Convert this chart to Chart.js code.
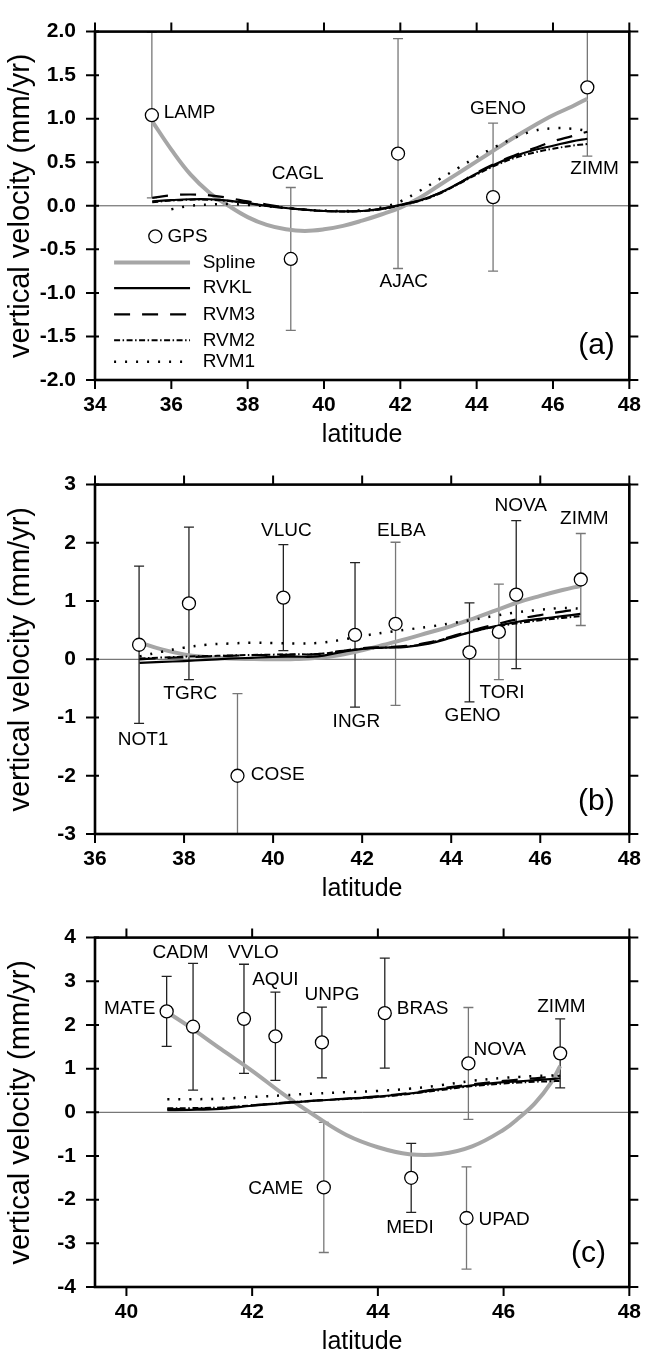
<!DOCTYPE html>
<html>
<head>
<meta charset="utf-8">
<script src="https://cdn.jsdelivr.net/npm/chart.js@4.4.1/dist/chart.umd.min.js"></script>
<style>
  body { margin: 0; background: #fff; width: 654px; height: 1357px; overflow: hidden; }
  canvas { display: block; }
</style>
</head>
<body>
<canvas id="chartA" width="654" height="453"></canvas>
<canvas id="chartB" width="654" height="453"></canvas>
<canvas id="chartC" width="654" height="451"></canvas>
<script>
// ---- tick labels
const xTicksA = [34, 36, 38, 40, 42, 44, 46, 48];
const yTicksA = [-2, -1.5, -1, -0.5, 0, 0.5, 1, 1.5, 2];
const xTicksB = [36, 38, 40, 42, 44, 46, 48];
const yTicksB = [-3, -2, -1, 0, 1, 2, 3];
const xTicksC = [40, 42, 44, 46, 48];
const yTicksC = [-4, -3, -2, -1, 0, 1, 2, 3, 4];

// ---- GPS stations, panel (a)
const aNames = ['LAMP', 'CAGL', 'AJAC', 'GENO', 'ZIMM'];
const aLat = [35.49, 39.13, 41.94, 44.43, 46.90];
const aVel = [1.04, -0.61, 0.60, 0.10, 1.36];
const aErr = [0.95, 0.82, 1.32, 0.85, 0.79];

// ---- GPS stations, panel (b)
const bNames = ['NOT1', 'TGRC', 'COSE', 'VLUC', 'INGR', 'ELBA', 'GENO', 'TORI', 'NOVA', 'ZIMM'];
const bLat = [36.99, 38.11, 39.20, 40.23, 41.84, 42.75, 44.41, 45.07, 45.46, 46.91];
const bVel = [0.25, 0.96, -2.0, 1.06, 0.42, 0.61, 0.12, 0.47, 1.11, 1.37];
const bErr = [1.35, 1.31, 1.41, 0.91, 1.24, 1.40, 0.85, 0.82, 1.27, 0.79];

// ---- GPS stations, panel (c)
const cNames = ['MATE', 'CADM', 'VVLO', 'AQUI', 'UNPG', 'CAME', 'BRAS', 'MEDI', 'UPAD', 'NOVA', 'ZIMM'];
const cLat = [40.64, 41.06, 41.87, 42.37, 43.11, 43.14, 44.11, 44.53, 45.41, 45.44, 46.90];
const cVel = [2.31, 1.96, 2.14, 1.74, 1.60, -1.72, 2.27, -1.50, -2.42, 1.12, 1.35];
const cErr = [0.80, 1.45, 1.25, 1.01, 0.81, 1.49, 1.26, 0.79, 1.17, 1.28, 0.79];

// ---- model curves, panel (a)
const aGrid = [35.5, 36, 36.5, 37, 37.5, 38, 38.5, 39, 39.5, 40, 40.5, 41, 41.5, 42, 42.5, 43, 43.5, 44, 44.5, 45, 45.5, 46, 46.5, 46.9];
const aSpline = [0.97, 0.645, 0.36, 0.15, 0.0, -0.13, -0.22, -0.27, -0.288, -0.27, -0.23, -0.17, -0.10, -0.02, 0.09, 0.23, 0.37, 0.51, 0.65, 0.79, 0.92, 1.04, 1.14, 1.23];
const aRVKL = [0.05, 0.065, 0.075, 0.075, 0.06, 0.03, 0.0, -0.025, -0.045, -0.06, -0.065, -0.06, -0.035, 0.01, 0.06, 0.14, 0.25, 0.37, 0.48, 0.57, 0.64, 0.69, 0.74, 0.77];
const aRVM3 = [0.09, 0.12, 0.13, 0.12, 0.09, 0.05, 0.015, -0.02, -0.045, -0.06, -0.065, -0.06, -0.035, 0.01, 0.06, 0.14, 0.25, 0.38, 0.49, 0.58, 0.66, 0.74, 0.80, 0.85];
const aRVM2 = [0.04, 0.06, 0.07, 0.07, 0.055, 0.03, 0.0, -0.025, -0.045, -0.06, -0.065, -0.06, -0.04, 0.005, 0.055, 0.135, 0.245, 0.36, 0.465, 0.55, 0.61, 0.655, 0.69, 0.71];
const aRVM1 = [null, -0.04, 0.0, 0.015, 0.02, 0.01, -0.005, -0.025, -0.045, -0.055, -0.06, -0.05, -0.02, 0.05, 0.17, 0.30, 0.43, 0.56, 0.68, 0.78, 0.86, 0.89, 0.885, 0.86];

// ---- model curves, panel (b)
const bGrid = [37, 37.5, 38, 38.5, 39, 39.5, 40, 40.5, 41, 41.5, 42, 42.5, 43, 43.5, 44, 44.5, 45, 45.5, 46, 46.5, 46.9];
const bSpline = [0.29, 0.17, 0.085, 0.04, 0.015, 0.005, 0.0, 0.005, 0.025, 0.075, 0.155, 0.25, 0.35, 0.46, 0.57, 0.70, 0.84, 0.98, 1.09, 1.19, 1.26];
const bRVKL = [-0.06, -0.045, -0.03, -0.01, 0.01, 0.025, 0.04, 0.045, 0.05, 0.12, 0.18, 0.20, 0.215, 0.27, 0.37, 0.48, 0.57, 0.645, 0.695, 0.74, 0.78];
const bRVM3 = [0.0, 0.02, 0.035, 0.05, 0.06, 0.07, 0.075, 0.08, 0.09, 0.14, 0.19, 0.21, 0.23, 0.29, 0.39, 0.50, 0.60, 0.69, 0.76, 0.82, 0.86];
const bRVM2 = [0.015, 0.03, 0.045, 0.055, 0.065, 0.075, 0.08, 0.085, 0.09, 0.135, 0.18, 0.20, 0.22, 0.28, 0.38, 0.48, 0.56, 0.62, 0.67, 0.71, 0.74];
const bRVM1 = [0.05, 0.13, 0.20, 0.25, 0.27, 0.285, 0.28, 0.27, 0.28, 0.33, 0.40, 0.46, 0.51, 0.56, 0.62, 0.68, 0.75, 0.81, 0.85, 0.88, 0.87];

// ---- model curves, panel (c)
const cGrid = [40.65, 41, 41.5, 42, 42.5, 43, 43.5, 44, 44.5, 45, 45.5, 46, 46.25, 46.5, 46.75, 46.9];
const cSpline = [2.29, 1.96, 1.45, 0.95, 0.41, -0.08, -0.52, -0.80, -0.96, -0.955, -0.78, -0.40, -0.12, 0.21, 0.67, 1.06];
const cRVKL = [0.05, 0.055, 0.08, 0.15, 0.21, 0.265, 0.31, 0.36, 0.43, 0.53, 0.62, 0.69, 0.71, 0.735, 0.76, 0.78];
const cRVM3 = [0.07, 0.075, 0.10, 0.16, 0.22, 0.27, 0.315, 0.365, 0.44, 0.55, 0.64, 0.72, 0.75, 0.78, 0.81, 0.84];
const cRVM2 = [0.09, 0.095, 0.11, 0.16, 0.215, 0.265, 0.305, 0.35, 0.42, 0.51, 0.60, 0.66, 0.68, 0.70, 0.71, 0.72];
const cRVM1 = [0.30, 0.30, 0.31, 0.35, 0.39, 0.43, 0.46, 0.49, 0.54, 0.62, 0.72, 0.79, 0.81, 0.83, 0.84, 0.85];

// error bar shade per station (d = dark, g = grey)
const aShade = ['g', 'g', 'g', 'g', 'g'];
const bShade = ['d', 'd', 'g', 'd', 'd', 'g', 'd', 'g', 'd', 'g'];
const cShade = ['d', 'd', 'd', 'd', 'd', 'g', 'd', 'd', 'g', 'g', 'd'];

// station label anchors [text, lat, vel, align]
const aNotes = [['LAMP', 35.80, 1.067, 'left'], ['CAGL', 39.31, 0.365, 'center'], ['AJAC', 42.09, -0.872, 'center'],
  ['GENO', 44.56, 1.11, 'center'], ['ZIMM', 47.09, 0.42, 'center']];
const bNotes = [['NOT1', 37.08, -1.375, 'center'], ['TGRC', 38.14, -0.59, 'center'], ['COSE', 39.50, -1.98, 'left'],
  ['VLUC', 40.30, 2.20, 'center'], ['INGR', 41.87, -1.07, 'center'], ['ELBA', 42.88, 2.20, 'center'],
  ['GENO', 44.48, -0.97, 'center'], ['TORI', 45.14, -0.58, 'center'], ['NOVA', 45.56, 2.63, 'center'],
  ['ZIMM', 46.99, 2.42, 'center']];
const cNotes = [['MATE', 40.46, 2.36, 'right'], ['CADM', 40.86, 3.65, 'center'], ['VVLO', 42.02, 3.65, 'center'],
  ['AQUI', 42.37, 3.03, 'center'], ['UNPG', 43.27, 2.70, 'center'], ['CAME', 42.81, -1.74, 'right'],
  ['BRAS', 44.30, 2.36, 'left'], ['MEDI', 44.51, -2.64, 'center'], ['UPAD', 45.60, -2.47, 'left'],
  ['NOVA', 45.52, 1.44, 'left'], ['ZIMM', 46.92, 2.42, 'center']];

const FONT = '"Liberation Sans", Arial, sans-serif';
Chart.defaults.font.family = FONT;
Chart.defaults.color = '#000';

const lineStyles = {
  Spline: { borderColor: '#a6a6a6', borderWidth: 4, order: 5 },
  RVKL: { borderColor: '#000', borderWidth: 2.2, order: 1 },
  RVM3: { borderColor: '#000', borderWidth: 2.2, borderDash: [16, 12], order: 2 },
  RVM2: { borderColor: '#000', borderWidth: 2, borderDash: [6, 2.5, 1.5, 2.5], order: 3 },
  RVM1: { borderColor: '#000', borderWidth: 2.5, borderDash: [2, 9], order: 4 }
};

function toPoints(xs, ys) {
  return xs.map((x, i) => ({ x: x, y: ys[i] }));
}

// zero line, error bars, frame, labels, legend
const decor = {
  id: 'decor',
  beforeDatasetsDraw(chart, args, opts) {
    const p = opts.panel;
    const { ctx, chartArea: a } = chart;
    const x = chart.scales.x, y = chart.scales.y;
    ctx.save();
    const y0 = y.getPixelForValue(0);
    ctx.strokeStyle = '#555';
    ctx.lineWidth = 1;
    ctx.beginPath(); ctx.moveTo(a.left, y0); ctx.lineTo(a.right, y0); ctx.stroke();

    ctx.beginPath();
    ctx.rect(a.left, a.top, a.right - a.left, a.bottom - a.top);
    ctx.clip();
    p.lat.forEach((lat, i) => {
      const px = x.getPixelForValue(lat);
      const top = y.getPixelForValue(p.vel[i] + p.err[i]);
      const bot = y.getPixelForValue(p.vel[i] - p.err[i]);
      ctx.strokeStyle = p.shade[i] === 'd' ? '#222' : '#777';
      ctx.lineWidth = 1.3;
      ctx.beginPath();
      ctx.moveTo(px, top); ctx.lineTo(px, bot);
      ctx.moveTo(px - 5, top); ctx.lineTo(px + 5, top);
      ctx.moveTo(px - 5, bot); ctx.lineTo(px + 5, bot);
      ctx.stroke();
    });
    ctx.restore();
  },
  afterDatasetsDraw(chart, args, opts) {
    const p = opts.panel;
    const { ctx, chartArea: a } = chart;
    const x = chart.scales.x, y = chart.scales.y;
    ctx.save();
    // frame and ticks on all four sides
    ctx.strokeStyle = '#000';
    ctx.lineWidth = 2.6;
    ctx.strokeRect(a.left, a.top, a.right - a.left, a.bottom - a.top);
    ctx.lineWidth = 2;
    ctx.beginPath();
    x.ticks.forEach(t => {
      const px = x.getPixelForValue(t.value);
      ctx.moveTo(px, a.top); ctx.lineTo(px, a.top - 9);
      ctx.moveTo(px, a.bottom); ctx.lineTo(px, a.bottom + 9);
    });
    y.ticks.forEach(t => {
      const py = y.getPixelForValue(t.value);
      ctx.moveTo(a.left - 9, py); ctx.lineTo(a.left + 4, py);
      ctx.moveTo(a.right, py); ctx.lineTo(a.right + 9, py);
    });
    ctx.stroke();

    // station names
    ctx.fillStyle = '#000';
    ctx.textBaseline = 'middle';
    ctx.font = '19px ' + FONT;
    p.notes.forEach(n => {
      ctx.textAlign = n[3];
      ctx.fillText(n[0], x.getPixelForValue(n[1]), y.getPixelForValue(n[2]));
    });

    // panel tag
    ctx.font = '30px ' + FONT;
    ctx.textAlign = 'center';
    ctx.fillText(p.tag[0], x.getPixelForValue(p.tag[1]), y.getPixelForValue(p.tag[2]));

    // legend (panel a only)
    if (p.legend) {
      const L = p.legend;
      ctx.font = '19px ' + FONT;
      ctx.textAlign = 'left';
      const gx = x.getPixelForValue(L.gps[0]), gy = y.getPixelForValue(L.gps[1]);
      ctx.beginPath(); ctx.arc(gx, gy, 6.5, 0, Math.PI * 2);
      ctx.lineWidth = 1.3; ctx.strokeStyle = '#000'; ctx.stroke();
      ctx.fillText('GPS', x.getPixelForValue(L.gpsText), gy);
      const x0 = x.getPixelForValue(L.lineFrom), x1 = x.getPixelForValue(L.lineTo);
      const tx = x.getPixelForValue(L.textAt);
      L.rows.forEach(r => {
        const ds = chart.data.datasets.find(d => d.label === r[0]);
        const ly = y.getPixelForValue(r[1]);
        ctx.save();
        ctx.strokeStyle = ds.borderColor;
        ctx.lineWidth = ds.borderWidth;
        ctx.setLineDash(ds.borderDash || []);
        ctx.beginPath(); ctx.moveTo(x0, ly); ctx.lineTo(x1, ly); ctx.stroke();
        ctx.restore();
        ctx.fillText(r[0], tx, ly);
      });
    }
    ctx.restore();
  }
};

function makePanel(canvasId, p) {
  const datasets = [{
    label: 'GPS',
    data: toPoints(p.lat, p.vel),
    pointStyle: 'circle',
    pointRadius: 6.5,
    pointHoverRadius: 6.5,
    borderColor: '#000',
    backgroundColor: '#fff',
    borderWidth: 1.3,
    order: 0
  }];
  Object.keys(p.models).forEach(name => {
    datasets.push(Object.assign({
      label: name,
      data: toPoints(p.grid, p.models[name]),
      showLine: true,
      pointRadius: 0,
      pointHoverRadius: 0,
      fill: false,
      tension: 0.4
    }, lineStyles[name]));
  });

  const bottomH = p.height - p.top - 364;
  return new Chart(document.getElementById(canvasId), {
    type: 'scatter',
    data: { datasets: datasets },
    options: {
      responsive: false,
      animation: false,
      events: [],
      layout: { padding: { top: p.top, right: 15, left: 0, bottom: 0 } },
      plugins: {
        legend: { display: false },
        tooltip: { enabled: false },
        decor: { panel: p }
      },
      scales: {
        x: {
          type: 'linear',
          min: p.xMin, max: p.xMax,
          afterBuildTicks: s => { s.ticks = p.xTicks.map(v => ({ value: v })); },
          afterFit: s => { s.height = bottomH; },
          grid: { display: false, drawTicks: false },
          border: { display: false },
          ticks: { font: { size: 21, weight: 'bold' }, color: '#000', padding: 13, maxRotation: 0, autoSkip: false },
          title: { display: true, text: 'latitude', font: { size: 25 }, color: '#000', padding: { top: 0, bottom: bottomH - 55 - 15 } }
        },
        y: {
          type: 'linear',
          min: p.yMin, max: p.yMax,
          afterBuildTicks: s => { s.ticks = p.yTicks.map(v => ({ value: v })); },
          afterFit: s => { s.width = 95; },
          grid: { display: false, drawTicks: false },
          border: { display: false },
          ticks: {
            font: { size: 21, weight: 'bold' }, color: '#000', padding: 19, autoSkip: false,
            callback: v => p.yDigits ? v.toFixed(p.yDigits) : String(v)
          },
          title: { display: true, text: 'vertical velocity (mm/yr)', font: { size: 29 }, color: '#000', padding: { top: 4, bottom: 0 } }
        }
      }
    },
    plugins: [decor]
  });
}

makePanel('chartA', {
  height: 453, top: 16, xMin: 34, xMax: 48, yMin: -2, yMax: 2, xTicks: xTicksA, yTicks: yTicksA, yDigits: 1,
  names: aNames, lat: aLat, vel: aVel, err: aErr, shade: aShade, notes: aNotes,
  grid: aGrid, models: { Spline: aSpline, RVKL: aRVKL, RVM3: aRVM3, RVM2: aRVM2, RVM1: aRVM1 },
  tag: ['(a)', 47.14, -1.61],
  legend: {
    gps: [35.58, -0.35], gpsText: 35.9, lineFrom: 34.5, lineTo: 36.49, textAt: 36.82,
    rows: [['Spline', -0.652], ['RVKL', -0.946], ['RVM3', -1.247], ['RVM2', -1.545], ['RVM1', -1.79]]
  }
});

makePanel('chartB', {
  height: 453, top: 17, xMin: 36, xMax: 48, yMin: -3, yMax: 3, xTicks: xTicksB, yTicks: yTicksB, yDigits: 0,
  names: bNames, lat: bLat, vel: bVel, err: bErr, shade: bShade, notes: bNotes,
  grid: bGrid, models: { Spline: bSpline, RVKL: bRVKL, RVM3: bRVM3, RVM2: bRVM2, RVM1: bRVM1 },
  tag: ['(b)', 47.26, -2.45]
});

makePanel('chartC', {
  height: 451, top: 17, xMin: 39.5, xMax: 48, yMin: -4, yMax: 4, xTicks: xTicksC, yTicks: yTicksC, yDigits: 0,
  names: cNames, lat: cLat, vel: cVel, err: cErr, shade: cShade, notes: cNotes,
  grid: cGrid, models: { Spline: cSpline, RVKL: cRVKL, RVM3: cRVM3, RVM2: cRVM2, RVM1: cRVM1 },
  tag: ['(c)', 47.35, -3.24]
});
</script>
</body>
</html>
